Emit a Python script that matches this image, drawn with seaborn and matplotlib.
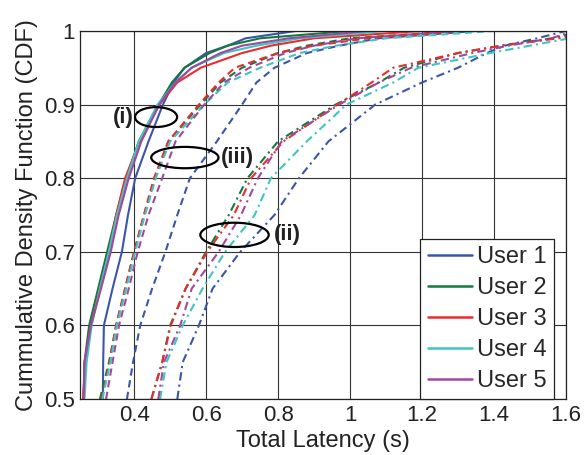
import numpy as np
import pandas as pd
import seaborn as sns
import matplotlib
matplotlib.use("Agg")
import matplotlib.pyplot as plt
from matplotlib.lines import Line2D
from matplotlib.patches import Ellipse

# CDF levels at which each latency curve is sampled
cdf_levels = [0.5, 0.55, 0.6, 0.65, 0.7, 0.75, 0.8, 0.85, 0.9, 0.93, 0.95, 0.97, 0.98, 0.99, 1.0]

users = ["User 1", "User 2", "User 3", "User 4", "User 5"]

# Scenario (i): solid curves, latency (s) at each CDF level
lat_i = {
    "User 1": [0.313, 0.314, 0.316, 0.340, 0.366, 0.383, 0.403, 0.440, 0.480, 0.510, 0.540, 0.600, 0.660, 0.710, 0.850],
    "User 2": [0.260, 0.262, 0.275, 0.300, 0.325, 0.350, 0.378, 0.413, 0.468, 0.505, 0.540, 0.610, 0.660, 0.750, 1.000],
    "User 3": [0.258, 0.263, 0.280, 0.305, 0.330, 0.350, 0.375, 0.415, 0.470, 0.520, 0.585, 0.700, 0.780, 0.900, 1.200],
    "User 4": [0.262, 0.268, 0.282, 0.305, 0.330, 0.352, 0.380, 0.413, 0.465, 0.515, 0.560, 0.650, 0.740, 0.860, 1.100],
    "User 5": [0.260, 0.262, 0.280, 0.308, 0.335, 0.357, 0.385, 0.420, 0.470, 0.515, 0.560, 0.640, 0.700, 0.830, 1.050],
}

# Scenario (iii): dashed curves
lat_iii = {
    "User 1": [0.380, 0.397, 0.417, 0.450, 0.487, 0.520, 0.555, 0.630, 0.700, 0.740, 0.790, 0.880, 0.970, 1.080, 1.350],
    "User 2": [0.305, 0.330, 0.350, 0.375, 0.400, 0.428, 0.458, 0.495, 0.585, 0.640, 0.700, 0.800, 0.880, 1.000, 1.300],
    "User 3": [0.310, 0.332, 0.350, 0.375, 0.400, 0.427, 0.455, 0.495, 0.580, 0.635, 0.680, 0.800, 0.900, 1.050, 1.300],
    "User 4": [0.312, 0.334, 0.352, 0.378, 0.403, 0.430, 0.460, 0.500, 0.595, 0.660, 0.750, 0.860, 0.960, 1.100, 1.400],
    "User 5": [0.322, 0.340, 0.358, 0.385, 0.410, 0.440, 0.478, 0.515, 0.595, 0.650, 0.720, 0.820, 0.900, 1.020, 1.300],
}

# Scenario (ii): dash-dot curves
lat_ii = {
    "User 1": [0.520, 0.535, 0.580, 0.618, 0.695, 0.790, 0.858, 0.940, 1.070, 1.200, 1.300, 1.380, 1.430, 1.520, 1.600],
    "User 2": [0.448, 0.478, 0.500, 0.543, 0.600, 0.663, 0.715, 0.800, 0.960, 1.080, 1.150, 1.300, 1.420, 1.560, 1.650],
    "User 3": [0.448, 0.478, 0.502, 0.543, 0.603, 0.677, 0.725, 0.815, 0.965, 1.060, 1.120, 1.300, 1.420, 1.580, 1.700],
    "User 4": [0.472, 0.490, 0.535, 0.590, 0.653, 0.735, 0.780, 0.880, 0.990, 1.120, 1.190, 1.390, 1.500, 1.610, 1.750],
    "User 5": [0.467, 0.483, 0.528, 0.560, 0.635, 0.697, 0.744, 0.810, 0.970, 1.080, 1.170, 1.340, 1.440, 1.560, 1.620],
}

colors = ["#3a56a8", "#127a3e", "#ee2a2e", "#3cc6c0", "#a0479e"]

frames = []
for scenario, table in [("(i)", lat_i), ("(iii)", lat_iii), ("(ii)", lat_ii)]:
    for user in users:
        frames.append(pd.DataFrame({
            "latency": table[user],
            "cdf": cdf_levels,
            "user": user,
            "scenario": scenario,
        }))
df = pd.concat(frames, ignore_index=True)

sns.set_style("white")
plt.rcParams["font.family"] = ["Liberation Sans", "DejaVu Sans"]

fig = plt.figure(figsize=(5.85, 4.55), dpi=100)
ax = fig.add_axes([0.137, 0.123, 0.8305, 0.809])

sns.lineplot(
    data=df, x="latency", y="cdf", hue="user", style="scenario",
    hue_order=users, style_order=["(i)", "(iii)", "(ii)"],
    palette=colors,
    dashes={"(i)": "", "(iii)": (3.5, 2.2), "(ii)": (4, 2, 1, 2)},
    sort=False, estimator=None, linewidth=1.5, legend=False, ax=ax,
)

ax.set_xlim(0.25, 1.6)
ax.set_ylim(0.5, 1.0)
xticks = [0.4, 0.6, 0.8, 1.0, 1.2, 1.4, 1.6]
yticks = [0.5, 0.6, 0.7, 0.8, 0.9, 1.0]
ax.set_xticks(xticks)
ax.set_xticklabels(["0.4", "0.6", "0.8", "1", "1.2", "1.4", "1.6"])
ax.set_yticks(yticks)
ax.set_yticklabels(["0.5", "0.6", "0.7", "0.8", "0.9", "1"])
ax.tick_params(direction="in", length=3, width=0.6, top=True, right=True,
               labelsize=16, pad=4, colors="#222222")
ax.grid(True, color="#333333", linewidth=0.8)
ax.set_axisbelow(True)
for sp in ax.spines.values():
    sp.set_color("#222222")
    sp.set_linewidth(0.9)

ax.set_xlabel("Total Latency (s)", fontsize=17, labelpad=3, color="#222222")
ax.set_ylabel("Cummulative Density Function (CDF)", fontsize=17, labelpad=4, color="#222222")

# Ellipses marking each scenario's group of curves
marks = [
    ((0.461, 0.883), 0.117, 0.027, "(i)", (0.398, 0.883), "right"),
    ((0.541, 0.828), 0.187, 0.029, "(iii)", (0.64, 0.828), "left"),
    ((0.679, 0.723), 0.190, 0.033, "(ii)", (0.787, 0.723), "left"),
]
for center, w, h, label, pos, ha in marks:
    ax.add_patch(Ellipse(center, w, h, fill=False, edgecolor="black", linewidth=1.6, zorder=5))
    ax.text(pos[0], pos[1], label, ha=ha, va="center", fontsize=16,
            fontweight="bold", color="#222222", zorder=6)

handles = [Line2D([0], [0], color=c, linewidth=1.8) for c in colors]
leg = ax.legend(handles, users, loc="lower right", bbox_to_anchor=(0.975, 0.0),
                borderaxespad=0.0, fontsize=17, handlelength=1.9,
                handletextpad=0.2, labelspacing=0.38, borderpad=0.3,
                frameon=True, fancybox=False, framealpha=1.0)
leg.get_frame().set_edgecolor("#222222")
leg.get_frame().set_linewidth(0.9)

fig.savefig("out.png", dpi=100)
